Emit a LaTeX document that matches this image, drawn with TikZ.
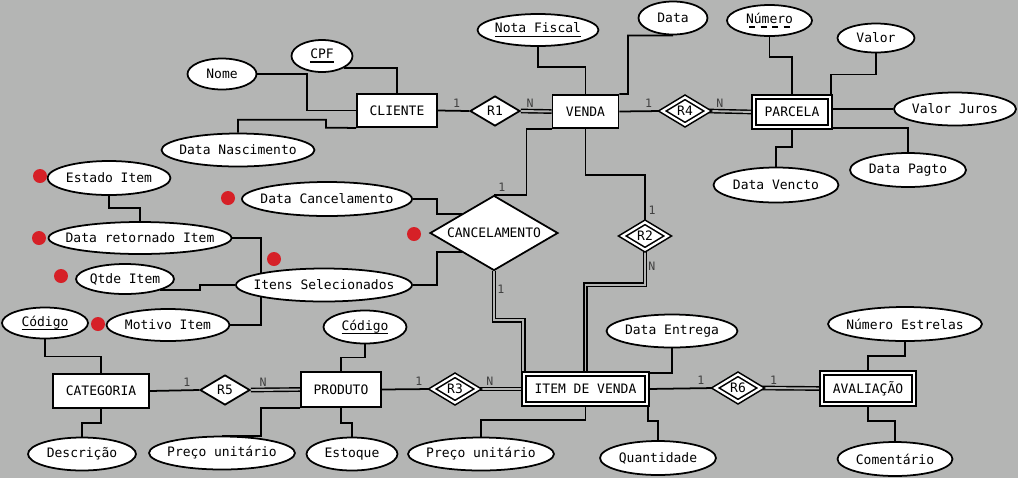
\documentclass[tikz,border=0pt]{standalone}
\usepackage{fontspec}
\setmonofont{DejaVu Sans Mono}
\usetikzlibrary{shapes.geometric}

\newcommand{\erfont}{\fontsize{7.4}{9}\selectfont\ttfamily}
\newcommand{\cardfont}{\fontsize{6.6}{8}\selectfont\ttfamily}
\newcommand{\sublinhado}[1]{\setbox0\hbox{#1}\copy0\llap{\vrule height-1.6pt depth2.5pt width\wd0}}
\newcommand{\tracejado}[1]{\setbox0\hbox{#1}\copy0\llap{\hbox to\wd0{\xleaders\hbox to 6pt{\hss\vrule height-1.6pt depth2.5pt width3.5pt\hss}\hfill}}}
\definecolor{fundocinza}{RGB}{180,181,180}
\definecolor{marcavermelha}{RGB}{214,32,39}

\pgfdeclarelayer{fundo}
\pgfdeclarelayer{linhas}
\pgfsetlayers{fundo,linhas,main}

\tikzset{
	forma/.style={draw, fill=white, inner sep=0pt, font=\erfont,
		execute at begin node={\hbox to 0pt\bgroup\hss},
		execute at end node={\hss\egroup}},
	entidade/.style={forma, rectangle, line width=1.1pt},
	fraca/.style={entidade, double, double distance=1.5pt, line width=1pt},
	atributo/.style={forma, ellipse, line width=1pt, minimum height=0.66cm},
	relac/.style={forma, diamond, line width=1pt, minimum width=1cm, minimum height=0.6cm},
	ident/.style={relac, double, double distance=1.3pt, line width=0.9pt, minimum width=0.92cm, minimum height=0.56cm},
	liga/.style={line width=1pt},
	total/.style={double=fundocinza, double distance=1.1pt, line width=0.8pt},
	card/.style={font=\cardfont, text=black!75, inner sep=1.5pt},
	marca/.style={circle, fill=marcavermelha, minimum size=0.28cm, inner sep=0pt}
}

\begin{document}
\begin{tikzpicture}[x=0.02cm, y=-0.02cm]

	\useasboundingbox (0,0) rectangle (1018,478);
	\begin{pgfonlayer}{fundo}
		\fill[fundocinza] (0,0) rectangle (1018,478);
	\end{pgfonlayer}

	%entidades
	\node[entidade, minimum width=1.6cm, minimum height=0.66cm] (cliente) at (397,110.5) {CLIENTE};
	\node[entidade, minimum width=1.32cm, minimum height=0.66cm] (venda) at (585.5,111.5) {VENDA};
	\node[fraca, minimum width=1.52cm, minimum height=0.6cm] (parcela) at (792,112) {PARCELA};
	\node[entidade, minimum width=1.92cm, minimum height=0.68cm] (categoria) at (101,391) {CATEGORIA};
	\node[entidade, minimum width=1.6cm, minimum height=0.7cm] (produto) at (341,389.5) {PRODUTO};
	\node[fraca, minimum width=2.46cm, minimum height=0.6cm] (itemvenda) at (585.5,389) {ITEM DE VENDA};
	\node[fraca, minimum width=1.84cm, minimum height=0.62cm] (avaliacao) at (868,388.5) {AVALIAÇÃO};

	%relacionamentos
	\node[relac] (r1) at (495,111) {R1};
	\node[ident] (r4) at (685,111) {R4};
	\node[ident] (r2) at (645,236) {R2};
	\node[relac, minimum width=2.56cm, minimum height=1.5cm] (cancel) at (494,233) {CANCELAMENTO};
	\node[relac] (r5) at (225,390) {R5};
	\node[ident] (r3) at (455,389) {R3};
	\node[ident] (r6) at (738,388) {R6};

	%atributos de CLIENTE e VENDA
	\node[atributo, minimum width=1.38cm, minimum height=0.62cm] (nome) at (222,74) {Nome};
	\node[atributo, minimum width=1.22cm, minimum height=0.64cm] (cpf) at (322,56) {\sublinhado{CPF}};
	\node[atributo, minimum width=3.06cm] (nascimento) at (238,150) {Data Nascimento};
	\node[atributo, minimum width=2.42cm, minimum height=0.64cm] (notafiscal) at (538,30) {\sublinhado{Nota Fiscal}};
	\node[atributo, minimum width=1.38cm] (data) at (673,18) {Data};

	%atributos de PARCELA
	\node[atributo, minimum width=1.7cm, minimum height=0.62cm] (numero) at (769.5,20.5) {\tracejado{Número}};
	\node[atributo, minimum width=1.54cm, minimum height=0.58cm] (valor) at (876,38) {Valor};
	\node[atributo, minimum width=2.44cm] (juros) at (955,109) {Valor Juros};
	\node[atributo, minimum width=2.32cm, minimum height=0.68cm] (pagto) at (908,170) {Data Pagto};
	\node[atributo, minimum width=2.5cm, minimum height=0.7cm] (vencto) at (776,185) {Data Vencto};

	%atributos de CANCELAMENTO
	\node[atributo, minimum width=2.46cm, minimum height=0.68cm] (estado) at (109,178) {Estado Item};
	\node[atributo, minimum width=3.4cm, minimum height=0.68cm] (dtcancel) at (327,199) {Data Cancelamento};
	\node[atributo, minimum width=3.66cm, minimum height=0.64cm] (retornado) at (140,238) {Data retornado Item};
	\node[atributo, minimum width=1.96cm, minimum height=0.6cm] (qtde) at (125,279) {Qtde Item};
	\node[atributo, minimum width=3.52cm] (selecionados) at (324,285) {Itens Selecionados};
	\node[atributo, minimum width=2.46cm, minimum height=0.64cm] (motivo) at (168,325) {Motivo Item};

	%marcas vermelhas
	\foreach \mx/\my [count=\i] in {40/176, 39/238, 228/198, 274/259, 414/234, 61/276, 98/324}
		\node[marca] (marca\i) at (\mx,\my) {};

	%atributos de CATEGORIA, PRODUTO e ITEM DE VENDA
	\node[atributo, minimum width=1.72cm, minimum height=0.62cm] (codcat) at (45,323) {\sublinhado{Código}};
	\node[atributo, minimum width=2.16cm] (descricao) at (82,454) {Descrição};
	\node[atributo, minimum width=1.66cm] (codprod) at (365,327) {\sublinhado{Código}};
	\node[atributo, minimum width=2.92cm] (precoprod) at (222,453) {Preço unitário};
	\node[atributo, minimum width=1.82cm] (estoque) at (352,454) {Estoque};
	\node[atributo, minimum width=2.92cm] (precoitem) at (481,454) {Preço unitário};
	\node[atributo, minimum width=2.32cm, minimum height=0.68cm] (quantidade) at (658,458) {Quantidade};
	\node[atributo, minimum width=2.62cm] (entrega) at (672,331) {Data Entrega};

	%atributos de AVALIACAO
	\node[atributo, minimum width=3.08cm, minimum height=0.68cm] (estrelas) at (905,324) {Número Estrelas};
	\node[atributo, minimum width=2.3cm, minimum height=0.68cm] (comentario) at (895,459) {Comentário};

	\begin{pgfonlayer}{linhas}
		%ligacoes dos atributos
		\draw[liga] (nome.east) -- ++(50,0) |- (cliente.west);
		\draw[liga] (cpf.south east) -| (cliente.north);
		\draw[liga] (nascimento.north) -- ++(0,-13) -| ++(88,8) -- (cliente.south west);
		\draw[liga] (notafiscal.south) -- ++(0,20) -| (venda.north);
		\draw[liga] (data.south) -| (628,94) -- (venda.north east);
		\draw[liga] (numero.south) -- ++(0,20) -| (parcela.north);
		\draw[liga] (valor.south) -- ++(0,21) -| (parcela.north east);
		\draw[liga] (juros.west) -- (juros.west -| parcela.east);
		\draw[liga] (parcela.south east) -| (pagto.north);
		\draw[liga] (parcela.south) -- ++(0,19) -| (vencto.north);
		\draw[liga] (dtcancel.east) -- ++(24,0) |- (cancel.north west);
		\draw[liga] (selecionados.east) -- ++(24,0) |- (cancel.south west);
		\draw[liga] (retornado.east) -| (261,0 |- selecionados.center);
		\draw[liga] (motivo.east) -| (261,0 |- selecionados.center);
		\draw[liga] (qtde.south east) -- ++(40,0) |- (selecionados.west);
		\draw[liga] (estado.south) -- ++(0,12) -| (retornado.north);
		\draw[liga] (codcat.south) -- ++(0,17) -| (categoria.north);
		\draw[liga] (categoria.south) -- ++(0,14) -| (descricao.north);
		\draw[liga] (codprod.south) -- ++(0,13) -| (produto.north);
		\draw[liga] (produto.south west) -- ++(-39,0) |- (precoprod.north);
		\draw[liga] (produto.south) -- ++(0,15) -| (estoque.north);
		\draw[liga] (itemvenda.south) -- ++(0,15) -| (precoitem.north);
		\draw[liga] (entrega.south) |- (itemvenda.north east);
		\draw[liga] (itemvenda.south east) -- ++(0,16) -| (quantidade.north);
		\draw[liga] (estrelas.south) -- ++(0,14) -| (avaliacao.north);
		\draw[liga] (avaliacao.south) -- ++(0,16) -| (comentario.north);

		%ligacoes dos relacionamentos
		\draw[liga] (cliente.east) -- node[card, above, pos=.6] {1} (r1.west);
		\draw[total] (r1.east) -- node[card, above, pos=.3] {N} (venda.west);
		\draw[liga] (venda.east) -- node[card, above, pos=.7] {1} (r4.west);
		\draw[total] (r4.east) -- node[card, above, pos=.25] {N} (parcela.west);
		\draw[liga] (venda.south west) -- ++(-25,0) |- node[card, above, pos=.88] {1} (cancel.north);
		\draw[liga] (venda.south) -- ++(0,46) -| node[card, right, pos=.88] {1} (r2.north);
		\draw[total] (r2.south) -- node[card, right, pos=.45] {N} ++(0,34) -| (itemvenda.north);
		\draw[total] (cancel.south) -- node[card, right, pos=.37] {1} ++(0,49) -| (itemvenda.north west);
		\draw[liga] (categoria.east) -- node[card, above, pos=.75] {1} (r5.west);
		\draw[total] (r5.east) -- node[card, above, pos=.25] {N} (produto.west);
		\draw[liga] (produto.east) -- node[card, above, pos=.75] {1} (r3.west);
		\draw[total] (r3.east) -- node[card, above, pos=.25] {N} (itemvenda.west);
		\draw[liga] (itemvenda.east) -- node[card, above, pos=.8] {1} (r6.west);
		\draw[total] (r6.east) -- node[card, above, pos=.2] {1} (avaliacao.west);
	\end{pgfonlayer}

\end{tikzpicture}
\end{document}
